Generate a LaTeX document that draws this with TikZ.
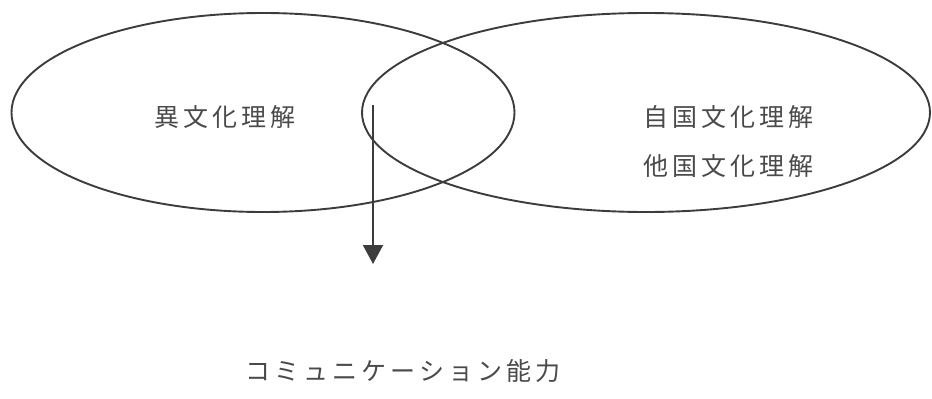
\documentclass[tikz,border=0pt]{standalone}
\usepackage{fontspec}
\newfontfamily\cjk[LetterSpace=16]{Noto Sans CJK JP}
\usetikzlibrary{shapes.geometric,arrows.meta}
\definecolor{ln}{HTML}{3C3C3C}
\definecolor{tx}{HTML}{4A4A4A}
\tikzset{
  ring/.style={ellipse, draw=ln, line width=1.9pt, inner sep=0pt},
  lbl/.style={font=\cjk\fontsize{25}{30}\selectfont, text=tx, inner sep=0pt, anchor=center},
  arr/.style={draw=ln, line width=1.9pt, -{Triangle[width=20pt,length=19pt]}}
}
\begin{document}
\begin{tikzpicture}[x=1pt,y=-1pt]
\useasboundingbox (0,0) rectangle (932,399);
\node[ring, minimum width=503pt, minimum height=199pt] (left) at (263,112.5) {};
\node[ring, minimum width=568pt, minimum height=199pt] (right) at (646,112.5) {};
\node[lbl] (ibunka) at (225,117) {異文化理解};
\node[lbl] (jikoku) at (728,117) {自国文化理解};
\node[lbl] (takoku) at (728,166) {他国文化理解};
\node[lbl] (comm) at (403,371) {コミュニケーション能力};
\coordinate (astart) at (373,105);
\coordinate (aend) at (373,264);
\draw[arr] (astart) -- (aend);
\end{tikzpicture}
\end{document}
